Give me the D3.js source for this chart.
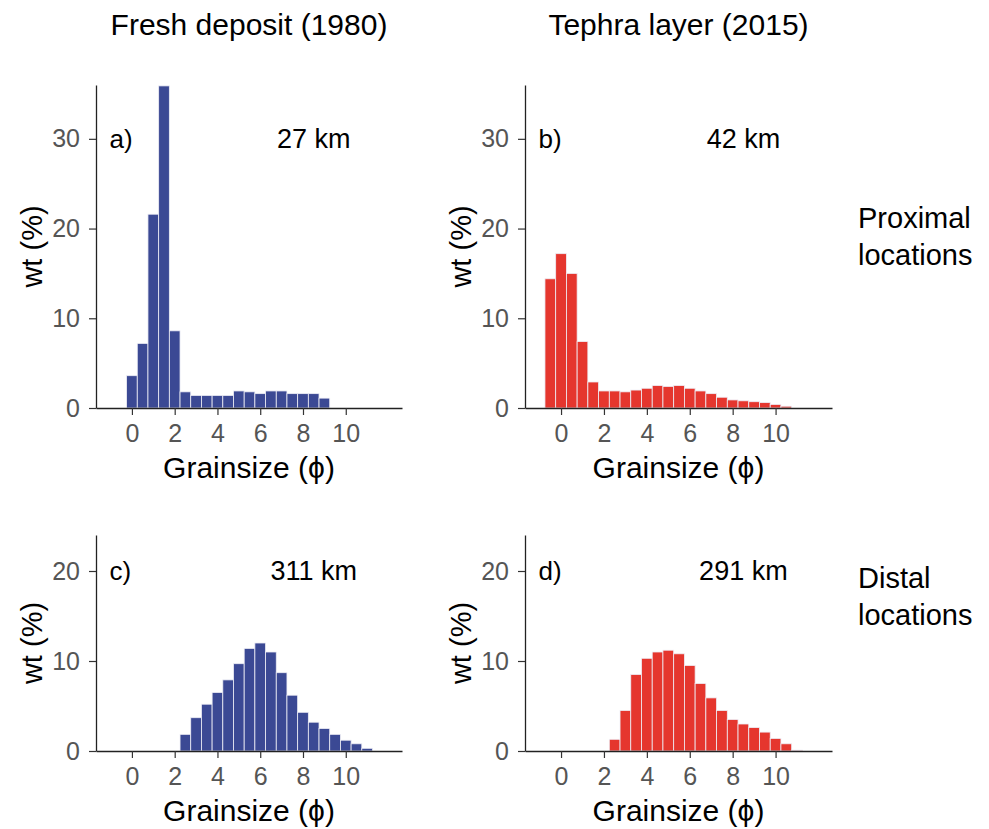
<!DOCTYPE html>
<html>
<head>
<meta charset="utf-8">
<script src="https://cdn.jsdelivr.net/npm/d3@7"></script>
<style>
  body { margin: 0; background: #fff; }
  svg { display: block; font-family: "Liberation Sans", Arial, sans-serif; }
</style>
</head>
<body>
<svg id="chart" width="989" height="829"></svg>
<script>
// bin centres (phi) and weight percent
var binWidth = 0.5;

var centersA = [0, 0.5, 1, 1.5, 2, 2.5, 3, 3.5, 4, 4.5, 5, 5.5, 6, 6.5, 7, 7.5, 8, 8.5, 9];
var wtA = [3.6, 7.2, 21.6, 35.9, 8.6, 1.8, 1.4, 1.4, 1.4, 1.4, 1.9, 1.8, 1.6, 1.9, 1.9, 1.6, 1.6, 1.6, 1.1];

var centersB = [-0.5, 0, 0.5, 1, 1.5, 2, 2.5, 3, 3.5, 4, 4.5, 5, 5.5, 6, 6.5, 7, 7.5, 8, 8.5, 9, 9.5, 10, 10.5];
var wtB = [14.4, 17.2, 15.0, 7.4, 2.9, 1.9, 1.9, 1.8, 2.0, 2.2, 2.5, 2.4, 2.5, 2.2, 1.9, 1.6, 1.2, 0.9, 0.8, 0.7, 0.6, 0.4, 0.2];

var centersC = [2.5, 3, 3.5, 4, 4.5, 5, 5.5, 6, 6.5, 7, 7.5, 8, 8.5, 9, 9.5, 10, 10.5, 11];
var wtC = [1.85, 3.7, 5.2, 6.5, 7.9, 9.7, 11.4, 12.0, 11.0, 8.7, 6.2, 4.3, 3.2, 2.5, 1.85, 1.2, 0.8, 0.3];

var centersD = [2.5, 3, 3.5, 4, 4.5, 5, 5.5, 6, 6.5, 7, 7.5, 8, 8.5, 9, 9.5, 10, 10.5, 11];
var wtD = [1.3, 4.5, 8.5, 10.3, 11.0, 11.2, 10.8, 9.5, 7.5, 5.9, 4.5, 3.5, 3.0, 2.6, 2.1, 1.4, 0.8, 0.1];

var xTicks = [0, 2, 4, 6, 8, 10];
var yTicksProx = [0, 10, 20, 30];
var yTicksDist = [0, 10, 20];

var colTitles = ["Fresh deposit (1980)", "Tephra layer (2015)"];
var rowLabels = [["Proximal", "locations"], ["Distal", "locations"]];
var tags = ["a)", "b)", "c)", "d)"];
var distances = ["27 km", "42 km", "311 km", "291 km"];

var blue = "#3b4994",
    red = "#e5362e";

var svg = d3.select("#chart");

var cols = [{ x0: 96, w: 306 }, { x0: 525, w: 307 }];
var rows = [{ y0: 85, h: 323, yMax: 36, ticks: yTicksProx, textY: 30 },
            { y0: 535, h: 216, yMax: 24, ticks: yTicksDist, textY: 20 }];

var panels = [
    { col: 0, row: 0, centers: centersA, values: wtA, color: blue },
    { col: 1, row: 0, centers: centersB, values: wtB, color: red },
    { col: 0, row: 1, centers: centersC, values: wtC, color: blue },
    { col: 1, row: 1, centers: centersD, values: wtD, color: red }
];

panels.forEach(function(p, i) {
    var c = cols[p.col], r = rows[p.row];
    var x = d3.scaleLinear().domain([-1.68, 12.63]).range([c.x0, c.x0 + c.w]);
    var y = d3.scaleLinear().domain([0, r.yMax]).range([r.y0 + r.h, r.y0]);

    var g = svg.append("g");

    g.selectAll("rect")
        .data(p.centers)
        .enter()
        .append("rect")
        .attr("x", function(d) { return x(d - binWidth / 2); })
        .attr("width", function(d) { return x(d + binWidth / 2) - x(d - binWidth / 2); })
        .attr("y", function(d, j) { return y(p.values[j]); })
        .attr("height", function(d, j) { return y(0) - y(p.values[j]); })
        .attr("fill", p.color)
        .attr("stroke", "#eeeef6")
        .attr("stroke-width", 0.8);

    var xAxis = g.append("g")
        .attr("transform", "translate(0," + y(0) + ")")
        .call(d3.axisBottom(x).tickValues(xTicks).tickSize(7).tickSizeOuter(0).tickPadding(9));

    var yAxis = g.append("g")
        .attr("transform", "translate(" + c.x0 + ",0)")
        .call(d3.axisLeft(y).tickValues(r.ticks).tickSize(7).tickSizeOuter(0).tickPadding(9));

    [xAxis, yAxis].forEach(function(ax) {
        ax.select(".domain").attr("stroke", "#222").attr("stroke-width", 1.3);
        ax.selectAll(".tick line").attr("stroke", "#333").attr("stroke-width", 1.2);
        ax.selectAll(".tick text")
            .attr("fill", "#555")
            .style("font-size", "25px")
            .style("font-family", "'Liberation Sans', Arial, sans-serif");
    });

    // axis titles
    g.append("text")
        .attr("x", c.x0 + c.w / 2)
        .attr("y", y(0) + 70)
        .attr("text-anchor", "middle")
        .style("font-size", "30px")
        .text("Grainsize (\u03D5)");

    g.append("text")
        .attr("transform", "translate(" + (c.x0 - 54) + "," + (r.y0 + r.h / 2) + ") rotate(-90)")
        .attr("text-anchor", "middle")
        .style("font-size", "29px")
        .text("wt (%)");

    // panel tag and distance
    g.append("text")
        .attr("x", x(-1.05))
        .attr("y", y(r.textY))
        .attr("dy", "0.35em")
        .style("font-size", "26px")
        .text(tags[i]);

    g.append("text")
        .attr("x", x(8.5))
        .attr("y", y(r.textY))
        .attr("dy", "0.35em")
        .attr("text-anchor", "middle")
        .style("font-size", "27px")
        .text(distances[i]);
});

colTitles.forEach(function(t, i) {
    svg.append("text")
        .attr("x", cols[i].x0 + cols[i].w / 2)
        .attr("y", 35)
        .attr("text-anchor", "middle")
        .style("font-size", "30px")
        .text(t);
});

var rowLabelY = [228, 588];
rowLabels.forEach(function(lines, i) {
    var t = svg.append("text")
        .attr("x", 858)
        .attr("y", rowLabelY[i])
        .style("font-size", "29px");
    lines.forEach(function(l, k) {
        t.append("tspan")
            .attr("x", 858)
            .attr("dy", k === 0 ? 0 : 37)
            .text(l);
    });
});
</script>
</body>
</html>
